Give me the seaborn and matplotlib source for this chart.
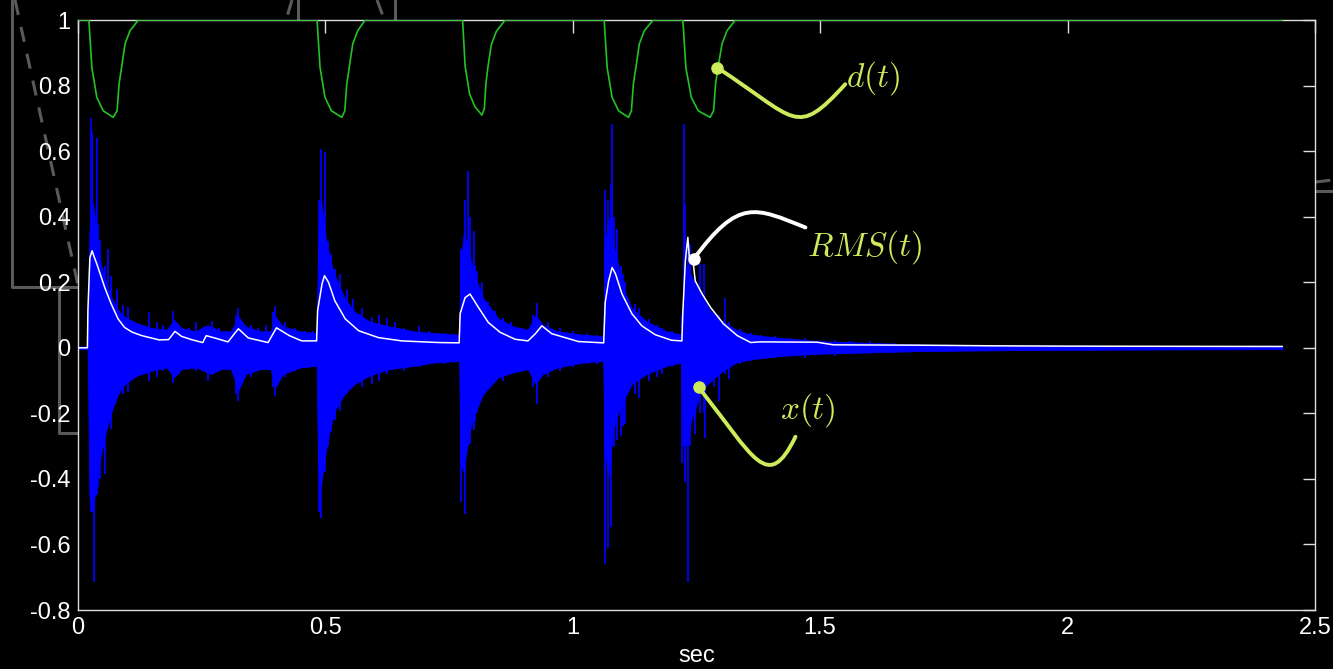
import matplotlib
matplotlib.use('Agg')
import matplotlib.pyplot as plt
import seaborn as sns
import pandas as pd
from matplotlib.path import Path
from matplotlib.patches import PathPatch
from matplotlib.lines import Line2D

# --- data -----------------------------------------------------------------
# d(t): gain curve, dips at each onset
d_t = [0.0, 0.023, 0.029, 0.039, 0.052, 0.072, 0.080, 0.084, 0.089, 0.096, 0.106, 0.123,
       0.484, 0.490, 0.500, 0.513, 0.534, 0.540, 0.544, 0.549, 0.556, 0.566, 0.581,
       0.778, 0.783, 0.792, 0.803, 0.817, 0.822, 0.825, 0.829, 0.836, 0.846, 0.864,
       1.064, 1.070, 1.080, 1.093, 1.113, 1.119, 1.123, 1.128, 1.135, 1.145, 1.163,
       1.223, 1.229, 1.240, 1.254, 1.278, 1.285, 1.289, 1.294, 1.302, 1.312, 1.329, 2.434]
d_val = [1.0, 1.0, 0.855, 0.764, 0.723, 0.703, 0.723, 0.805, 0.855, 0.927, 0.967, 1.0,
         1.0, 0.855, 0.764, 0.723, 0.703, 0.723, 0.805, 0.855, 0.927, 0.967, 1.0,
         1.0, 0.86, 0.775, 0.735, 0.71, 0.73, 0.805, 0.855, 0.925, 0.965, 1.0,
         1.0, 0.855, 0.764, 0.723, 0.703, 0.723, 0.805, 0.855, 0.927, 0.967, 1.0,
         1.0, 0.855, 0.764, 0.723, 0.703, 0.723, 0.805, 0.855, 0.927, 0.967, 1.0, 1.0]

# RMS(t)
rms_t = [0.0, 0.020, 0.021, 0.025, 0.0295, 0.033, 0.039, 0.047, 0.055, 0.068, 0.082, 0.095,
         0.11, 0.13, 0.165, 0.184, 0.197, 0.21, 0.23, 0.253, 0.26, 0.277, 0.304, 0.325,
         0.345, 0.385, 0.402, 0.428, 0.453, 0.483, 0.485, 0.494, 0.499, 0.507, 0.52, 0.541,
         0.568, 0.608, 0.655, 0.729, 0.771, 0.773, 0.783, 0.793, 0.81, 0.83, 0.854, 0.884,
         0.91, 0.925, 0.938, 0.958, 1.012, 1.063, 1.066, 1.073, 1.08, 1.087, 1.10, 1.12,
         1.14, 1.167, 1.20, 1.221, 1.223, 1.228, 1.233, 1.236, 1.243, 1.248, 1.262, 1.279,
         1.292, 1.305, 1.333, 1.36, 1.378, 1.494, 1.527, 1.692, 1.85, 2.0, 2.434]
rms_val = [0.0, 0.0, 0.113, 0.275, 0.296, 0.28, 0.256, 0.22, 0.184, 0.134, 0.088, 0.062,
           0.048, 0.037, 0.024, 0.025, 0.05, 0.035, 0.025, 0.016, 0.037, 0.03, 0.018, 0.058,
           0.03, 0.016, 0.061, 0.037, 0.021, 0.021, 0.113, 0.195, 0.22, 0.2, 0.143, 0.088,
           0.052, 0.031, 0.021, 0.016, 0.015, 0.104, 0.153, 0.164, 0.123, 0.077, 0.047, 0.026,
           0.021, 0.043, 0.067, 0.043, 0.019, 0.015, 0.138, 0.204, 0.245, 0.225, 0.164, 0.104,
           0.067, 0.04, 0.023, 0.021, 0.113, 0.265, 0.337, 0.275, 0.27, 0.204, 0.164, 0.123,
           0.098, 0.073, 0.037, 0.016, 0.018, 0.017, 0.009, 0.008, 0.006, 0.005, 0.004]

# x(t): dense body of the waveform (upper / lower envelope)
x_t = [0.0, 0.020, 0.021, 0.024, 0.03, 0.035, 0.04, 0.05, 0.06, 0.07, 0.08, 0.09, 0.10,
       0.12, 0.15, 0.18, 0.195, 0.21, 0.24, 0.255, 0.27, 0.29, 0.31, 0.325, 0.34, 0.37,
       0.39, 0.40, 0.415, 0.45, 0.483, 0.486, 0.492, 0.50, 0.51, 0.52, 0.54, 0.56, 0.59,
       0.63, 0.68, 0.72, 0.771, 0.774, 0.78, 0.79, 0.80, 0.82, 0.85, 0.88, 0.91, 0.925,
       0.94, 0.97, 1.02, 1.062, 1.065, 1.072, 1.08, 1.09, 1.10, 1.12, 1.15, 1.19, 1.22,
       1.223, 1.23, 1.24, 1.26, 1.28, 1.30, 1.33, 1.36, 1.42, 1.5, 1.6, 1.7, 1.9, 2.2, 2.434]
x_up = [0.004, 0.004, 0.05, 0.35, 0.45, 0.40, 0.30, 0.24, 0.19, 0.15, 0.12, 0.10, 0.09,
        0.075, 0.06, 0.055, 0.085, 0.06, 0.05, 0.065, 0.065, 0.05, 0.05, 0.095, 0.065, 0.05,
        0.05, 0.095, 0.065, 0.05, 0.045, 0.30, 0.45, 0.35, 0.27, 0.22, 0.15, 0.11, 0.08,
        0.065, 0.05, 0.045, 0.04, 0.25, 0.35, 0.30, 0.23, 0.15, 0.09, 0.065, 0.055, 0.10,
        0.07, 0.05, 0.04, 0.035, 0.30, 0.40, 0.33, 0.27, 0.19, 0.12, 0.08, 0.05, 0.04,
        0.10, 0.25, 0.22, 0.16, 0.11, 0.085, 0.055, 0.04, 0.03, 0.02, 0.015, 0.01, 0.007, 0.005, 0.004]
x_lo = [-0.004, -0.004, -0.05, -0.45, -0.50, -0.45, -0.38, -0.31, -0.24, -0.19, -0.15, -0.12, -0.105,
        -0.085, -0.07, -0.06, -0.09, -0.065, -0.06, -0.07, -0.08, -0.065, -0.065, -0.13, -0.08, -0.065,
        -0.065, -0.12, -0.08, -0.06, -0.055, -0.35, -0.42, -0.33, -0.25, -0.19, -0.14, -0.11, -0.085,
        -0.065, -0.055, -0.045, -0.04, -0.35, -0.38, -0.27, -0.21, -0.14, -0.09, -0.075, -0.065, -0.11,
        -0.08, -0.06, -0.045, -0.04, -0.30, -0.40, -0.26, -0.21, -0.17, -0.11, -0.08, -0.055, -0.045,
        -0.20, -0.30, -0.22, -0.13, -0.10, -0.075, -0.045, -0.035, -0.025, -0.018, -0.014, -0.01, -0.007, -0.005, -0.004]

# x(t): individual spikes (time, low, high)
spike_t = [0.027, 0.030, 0.034, 0.039, 0.041, 0.046, 0.0556, 0.062, 0.068, 0.079, 0.092, 0.102, 0.13,
           0.145, 0.16, 0.172, 0.193, 0.205, 0.225, 0.24, 0.264, 0.271, 0.285, 0.30, 0.320, 0.325,
           0.35, 0.365, 0.38, 0.395, 0.399, 0.42, 0.44, 0.46, 0.475,
           0.488, 0.492, 0.500, 0.506, 0.512, 0.520, 0.531, 0.545, 0.557, 0.575, 0.595, 0.61, 0.625,
           0.642, 0.66, 0.69, 0.71, 0.74, 0.76,
           0.775, 0.782, 0.789, 0.793, 0.800, 0.804, 0.807, 0.817, 0.830, 0.844, 0.86, 0.875, 0.895,
           0.920, 0.928, 0.95, 0.975, 1.0, 1.03, 1.05,
           1.065, 1.072, 1.078, 1.080, 1.083, 1.090, 1.097, 1.103, 1.107, 1.127, 1.134, 1.154, 1.17,
           1.181, 1.2, 1.21,
           1.221, 1.226, 1.228, 1.233, 1.238, 1.248, 1.258, 1.265, 1.268, 1.285, 1.295, 1.309, 1.316,
           1.339, 1.36, 1.38, 1.41, 1.44, 1.47, 1.5, 1.53, 1.56, 1.6, 1.65, 1.7, 1.75, 1.8]
spike_lo = [-0.50, -0.30, -0.716, -0.45, -0.426, -0.40, -0.385, -0.20, -0.248, -0.131, -0.14, -0.136, -0.08,
            -0.10, -0.09, -0.07, -0.106, -0.08, -0.06, -0.07, -0.10, -0.08, -0.07, -0.06, -0.14, -0.162,
            -0.09, -0.07, -0.06, -0.12, -0.146, -0.09, -0.07, -0.06, -0.05,
            -0.50, -0.52, -0.38, -0.30, -0.253, -0.22, -0.192, -0.14, -0.121, -0.12, -0.11, -0.1, -0.08,
            -0.06, -0.07, -0.06, -0.05, -0.05, -0.04,
            -0.472, -0.507, -0.30, -0.294, -0.25, -0.223, -0.20, -0.141, -0.12, -0.09, -0.1, -0.08, -0.07,
            -0.12, -0.171, -0.09, -0.07, -0.06, -0.05, -0.05,
            -0.66, -0.61, -0.548, -0.30, -0.304, -0.28, -0.268, -0.24, -0.232, -0.14, -0.152, -0.10, -0.09,
            -0.08, -0.06, -0.05,
            -0.35, -0.30, -0.41, -0.716, -0.30, -0.262, -0.20, -0.20, -0.274, -0.12, -0.162, -0.08, -0.095,
            -0.05, -0.04, -0.035, -0.03, -0.025, -0.03, -0.02, -0.025, -0.02, -0.018, -0.015, -0.012, -0.01, -0.01]
spike_hi = [0.70, 0.657, 0.30, 0.64, 0.378, 0.33, 0.25, 0.30, 0.22, 0.18, 0.13, 0.123, 0.07,
            0.11, 0.08, 0.07, 0.113, 0.07, 0.06, 0.08, 0.07, 0.082, 0.06, 0.05, 0.10, 0.12,
            0.07, 0.06, 0.07, 0.11, 0.128, 0.08, 0.06, 0.05, 0.05,
            0.45, 0.606, 0.596, 0.326, 0.286, 0.24, 0.225, 0.18, 0.15, 0.12, 0.093, 0.1, 0.09,
            0.08, 0.06, 0.065, 0.05, 0.045, 0.04,
            0.30, 0.45, 0.54, 0.40, 0.357, 0.25, 0.235, 0.20, 0.14, 0.113, 0.09, 0.08, 0.06,
            0.10, 0.138, 0.08, 0.06, 0.05, 0.045, 0.04,
            0.48, 0.45, 0.50, 0.683, 0.40, 0.363, 0.25, 0.225, 0.20, 0.134, 0.12, 0.088, 0.07,
            0.06, 0.05, 0.04,
            0.10, 0.683, 0.44, 0.30, 0.317, 0.20, 0.256, 0.256, 0.15, 0.113, 0.10, 0.153, 0.08,
            0.057, 0.045, 0.04, 0.035, 0.03, 0.03, 0.025, 0.025, 0.02, 0.02, 0.015, 0.012, 0.01, 0.01]

x_ticks = [0, 0.5, 1, 1.5, 2, 2.5]
x_labels = ['0', '0.5', '1', '1.5', '2', '2.5']
y_ticks = [-0.8, -0.6, -0.4, -0.2, 0, 0.2, 0.4, 0.6, 0.8, 1]
y_labels = ['-0.8', '-0.6', '-0.4', '-0.2', '0', '0.2', '0.4', '0.6', '0.8', '1']

# --- style ----------------------------------------------------------------
sns.set_style('dark', {'axes.facecolor': 'black', 'figure.facecolor': 'black',
                       'axes.edgecolor': '#DDDDDD', 'xtick.color': '#DDDDDD',
                       'ytick.color': '#DDDDDD', 'text.color': 'white',
                       'axes.labelcolor': 'white'})
plt.rcParams['font.family'] = ['Liberation Sans', 'DejaVu Sans']
plt.rcParams['mathtext.fontset'] = 'cm'

BLUE = '#0000FF'
GREEN = '#22C422'
ANNO = '#CDEB5A'

fig = plt.figure(figsize=(13.33, 6.69), dpi=100)
fig.patch.set_facecolor('black')
ax = fig.add_axes([0.05814, 0.08819, 0.92836, 0.88191])
ax.set_facecolor('black')

# grey remnants of the slide behind the plot (figure pixel coords)
def fig_line(xs, ys, ls='-'):
    fig.add_artist(Line2D([x / 1333 for x in xs], [1 - y / 669 for y in ys],
                          transform=fig.transFigure, color='#5A5A5A', lw=2.2,
                          ls=ls, dashes=(5, 4) if ls == '--' else (None, None),
                          zorder=-5))

fig_line([12, 12, 78], [0, 287, 287])
fig_line([58.5, 58.5, 78], [287, 433, 433])
fig_line([15, 78], [0, 285], '--')
fig_line([292, 286], [0, 20], '--')
fig_line([298, 298], [0, 20])
fig_line([377, 383], [0, 16], '--')
fig_line([395, 395], [0, 20])
fig_line([1315, 1333], [191, 191])
fig_line([1315, 1333], [182, 180], '--')

# --- the three signals ------------------------------------------------------
ax.fill_between(x_t, x_lo, x_up, color=BLUE, lw=0.6, zorder=2)
ax.vlines(spike_t, spike_lo, spike_hi, color=BLUE, lw=1.3, zorder=2)

rms_df = pd.DataFrame({'t': rms_t, 'v': rms_val})
sns.lineplot(data=rms_df, x='t', y='v', color='white', lw=1.1, ax=ax, zorder=3,
             estimator=None, sort=False)

d_df = pd.DataFrame({'t': d_t, 'v': d_val})
sns.lineplot(data=d_df, x='t', y='v', color=GREEN, lw=1.2, ax=ax, zorder=4,
             estimator=None, sort=False)

# --- annotations -------------------------------------------------------------
def curve(p0, p1, p2, p3, color):
    path = Path([p0, p1, p2, p3], [Path.MOVETO, Path.CURVE4, Path.CURVE4, Path.CURVE4])
    ax.add_patch(PathPatch(path, fc='none', ec=color, lw=2.8, zorder=6, capstyle='round'))
    ax.plot([p0[0]], [p0[1]], 'o', color=color, ms=8, zorder=7)

curve((1.292, 0.855), (1.454, 0.696), (1.450, 0.637), (1.551, 0.804), ANNO)
curve((1.245, 0.271), (1.336, 0.4585), (1.3695, 0.428), (1.4706, 0.367), 'white')
curve((1.255, -0.121), (1.366, -0.3325), (1.394, -0.4466), (1.4504, -0.2715), ANNO)

ax.text(1.608, 0.824, r'$d(t)$', color=ANNO, fontsize=24, ha='center', va='center', zorder=8)
ax.text(1.590, 0.308, r'$RMS(t)$', color=ANNO, fontsize=24, ha='center', va='center', zorder=8)
ax.text(1.4747, -0.189, r'$x(t)$', color=ANNO, fontsize=24, ha='center', va='center', zorder=8)

# --- axes ----------------------------------------------------------------------
ax.set_xlim(0, 2.5)
ax.set_ylim(-0.8, 1)
ax.set_xticks(x_ticks)
ax.set_xticklabels(x_labels)
ax.set_yticks(y_ticks)
ax.set_yticklabels(y_labels)
ax.tick_params(direction='in', length=9, width=1, top=True, right=True,
               labelsize=17, labelcolor='white', colors='#DDDDDD')
ax.tick_params(axis='x', pad=5)
ax.tick_params(axis='y', pad=5)
ax.set_xlabel('sec', fontsize=17, color='white', labelpad=4)
ax.set_ylabel('')
ax.grid(False)
for s in ax.spines.values():
    s.set_color('#DDDDDD')
    s.set_linewidth(1.0)

fig.savefig('out.png', dpi=100, facecolor='black')
